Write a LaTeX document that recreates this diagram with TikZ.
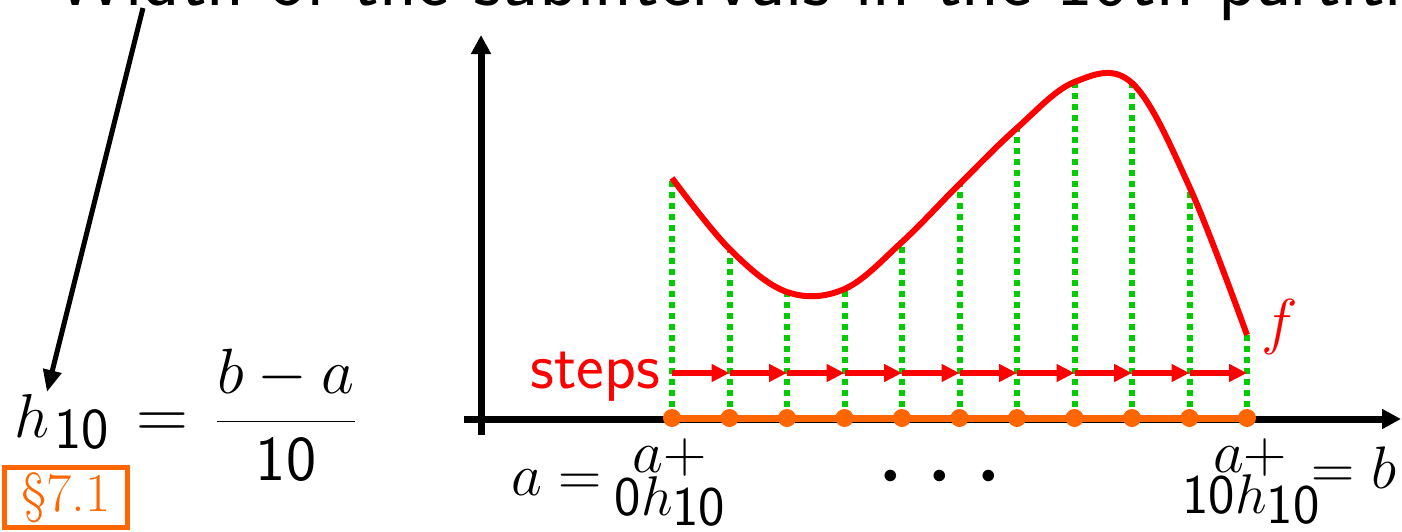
\RequirePackage{fix-cm}
\documentclass[tikz,border=0pt]{standalone}
\usepackage{amsmath}
\usepackage{fontspec}
\usetikzlibrary{arrows.meta}
\definecolor{myorange}{RGB}{255,102,0}
\definecolor{mygreen}{RGB}{0,204,0}
\definecolor{myred}{RGB}{255,0,0}
\newcommand{\lowsub}[2]{\raisebox{-#1}{\sffamily #2}}
\begin{document}
\begin{tikzpicture}[x=1pt,y=-1pt,
  axisline/.style={line width=7pt,-{Triangle[length=19pt,width=19pt]}},
  pointer/.style={line width=5pt,-{Triangle[length=22pt,width=18pt]}},
  curvef/.style={myred,line width=6pt},
  gridline/.style={mygreen,line width=6pt,dash pattern=on 6pt off 5pt},
  stepar/.style={myred,line width=6pt,-{Triangle[length=18pt,width=17pt]}},
  ptdot/.style={circle,fill=myorange,inner sep=0pt,minimum size=18pt},
  lbl/.style={inner sep=0pt,font=\fontsize{60}{64}\selectfont},
]
\useasboundingbox (0,0) rectangle (1402,531);

% title (clipped at top)
\node[anchor=base west,inner sep=0pt,font=\fontsize{78}{86}\selectfont\sffamily] (title) at (56,5) {Width of the subintervals in the 10th partition};

% formula
\node[anchor=base west,inner sep=0pt,font=\fontsize{62}{70}\selectfont] (h) at (14,437) {$h$};
\node[anchor=base west,inner sep=0pt,font=\fontsize{58}{66}\selectfont\sffamily] (hsub) at (54,448) {10};
\node[anchor=base west,inner sep=0pt,font=\fontsize{72}{80}\selectfont] (eq) at (136,438) {$=$};
\node[anchor=base,inner sep=0pt,font=\fontsize{64}{72}\selectfont] (frac) at (286,437) {$\dfrac{b-a}{\mathsf{10}}$};

% section box
\node[draw=myorange,line width=5pt,text=myorange,minimum width=123pt,minimum height=60pt,inner sep=0pt,font=\fontsize{55}{60}\selectfont] (sec) at (66,497.5) {\S7.1};

% pointer arrow
\coordinate (tstart) at (143,8);
\coordinate (htip) at (47,392);
\draw[pointer] (tstart) -- (htip);

% axes
\coordinate (yb) at (481,435);
\coordinate (yt) at (481,35);
\coordinate (xl) at (464,419);
\coordinate (xr) at (1401,419);
\draw[axisline] (yb) -- (yt);
\draw[axisline] (xl) -- (xr);

% partition points, curve values
\foreach \i/\x/\y in {0/672/178,1/729.5/249,2/787/292,3/844.5/289,4/902/242,5/959.5/184,6/1017/128,7/1074.5/82,8/1132/83,9/1189.5/187,10/1247/335}{
  \coordinate (p\i) at (\x,418);
  \coordinate (c\i) at (\x,\y);
  \coordinate (s\i) at (\x,373);
}
\foreach \i in {0,...,10}{
  \draw[gridline] (p\i) -- (c\i);
}
\draw[curvef] plot[smooth,tension=0.6] coordinates {(672,178) (729.5,249) (787,292) (844.5,289) (902,242) (959.5,184) (1017,128) (1074.5,82) (1132,83) (1189.5,187) (1247,335)};

% steps arrows
\foreach \i [evaluate=\i as \j using int(\i+1)] in {0,...,9}{
  \draw[stepar] (s\i) -- (s\j);
}
\node[anchor=base east,inner sep=0pt,text=myred,font=\fontsize{66}{70}\selectfont\sffamily] (steps) at (660,388) {steps};
\node[inner sep=0pt,text=myred,font=\fontsize{62}{70}\selectfont] (f) at (1280,327) {$f$};

% orange partition
\draw[myorange,line width=7pt] (p0) -- (p10);
\foreach \i in {0,...,10}{
  \node[ptdot] (d\i) at (p\i) {};
}

% labels
\node[lbl,anchor=base east] (aeq) at (602,495) {$a =$};
\node[lbl,anchor=base] (aL1) at (670,472) {$a+$};
\node[lbl,anchor=base,font=\fontsize{56}{60}\selectfont] (aL2) at (670,515) {\sffamily 0$h$\lowsub{10pt}{10}};
\node[inner sep=0pt,anchor=base,font=\fontsize{110}{120}\selectfont] (dots) at (949,503.5) {$\cdots$};
\node[lbl,anchor=base] (aR1) at (1250,472) {$a+$};
\node[lbl,anchor=base,font=\fontsize{56}{60}\selectfont] (aR2) at (1251,513) {\sffamily 10$h$\lowsub{10pt}{10}};
\node[lbl,anchor=base west] (eqb) at (1311,488) {$= b$};
\end{tikzpicture}
\end{document}
